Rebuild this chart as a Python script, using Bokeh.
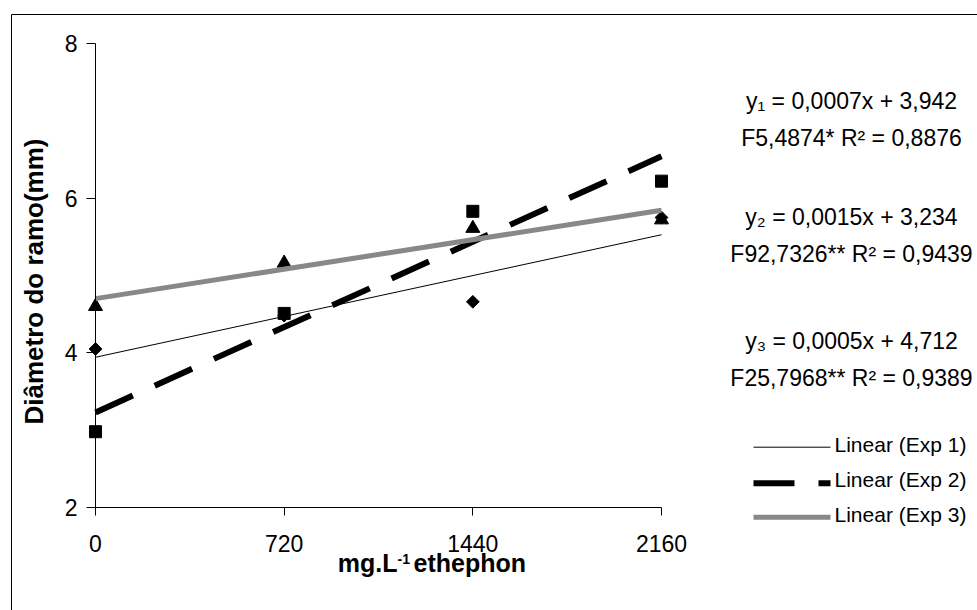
import numpy as np
from math import pi
from bokeh.plotting import figure
from bokeh.models import Range1d, FixedTicker, Label, Arrow, BoxAnnotation, LinearAxis
from bokeh.embed import file_html
from bokeh.resources import INLINE

# ---------------- data ----------------
doses = [0, 720, 1440, 2160]
exp1 = [4.05, 4.48, 4.66, 5.75]
exp2 = [2.98, 4.51, 5.83, 6.22]
exp3 = [4.60, 5.16, 5.61, 5.72]
x_ticks = [0, 720, 1440, 2160]
y_ticks = [2, 4, 6, 8]
legend_names = ["Linear (Exp 1)", "Linear (Exp 2)", "Linear (Exp 3)"]
eq_texts = ["y\u2081 = 0,0007x + 3,942", "y\u2082 = 0,0015x + 3,234", "y\u2083 = 0,0005x + 4,712"]
stat_texts = ["F5,4874* R\u00b2 = 0,8876", "F92,7326** R\u00b2 = 0,9439", "F25,7968** R\u00b2 = 0,9389"]
y_title = "Di\u00e2metro do ramo(mm)"
x_title_parts = ["mg.L", "-1", "ethephon"]

FONT = "Liberation Sans"
GRAY = "#888888"
W, H = 977, 610

# ---------------- layout helpers (canvas pixel -> data) ----------------
PX_X0, PX_X1 = 95.0, 661.0      # pixel of x = 0 and x = 2160
PX_Y8, PX_Y2 = 43.0, 507.0      # pixel of y = 8 and y = 2
X_PER_PX = 2160.0 / (PX_X1 - PX_X0)
Y_PER_PX = 6.0 / (PX_Y2 - PX_Y8)


def sx(px):
    return (px - PX_X0) * X_PER_PX


def sy(py):
    return 2.0 + (PX_Y2 - py) * Y_PER_PX


def text_label(px, py_base, text, size, align="left", bold=False):
    # py_base: wanted pixel row of the text's baseline
    return Label(x=sx(px), y=sy(py_base - 0.42 * size), text=text,
                 text_align=align, text_baseline="alphabetic",
                 text_font=FONT, text_font_style="bold" if bold else "normal",
                 text_font_size=f"{size}px", text_color="black")


p = figure(width=W, height=H,
           x_range=Range1d(sx(0), sx(W)), y_range=Range1d(sy(H), sy(0)),
           output_backend="svg", toolbar_location=None,
           x_axis_location=None, y_axis_location=None,
           min_border=0, min_border_left=0, min_border_right=0,
           min_border_top=0, min_border_bottom=0,
           background_fill_color="white", border_fill_color="white",
           outline_line_color=None)
p.grid.visible = False

xaxis = LinearAxis(fixed_location=2, bounds=(0, 2160), ticker=FixedTicker(ticks=x_ticks))
yaxis = LinearAxis(fixed_location=0, bounds=(2, 8), ticker=FixedTicker(ticks=y_ticks))
for ax in (xaxis, yaxis):
    ax.axis_line_color = "black"
    ax.axis_line_width = 1
    ax.major_tick_line_color = "black"
    ax.major_tick_in = 0
    ax.minor_tick_line_color = None
    ax.major_label_text_font = FONT
    ax.major_label_text_font_size = "23px"
    ax.major_label_text_color = "black"
xaxis.major_tick_out = 8
yaxis.major_tick_out = 9
xaxis.major_label_standoff = 19
yaxis.major_label_standoff = 9
p.add_layout(xaxis, "below")
p.add_layout(yaxis, "left")

# ---------------- markers ----------------
p.scatter(doses, exp1, marker="square", angle=pi / 4, size=9, color="black")
p.scatter(doses, exp2, marker="square", size=12, color="black")
p.scatter(doses, exp3, marker="triangle", size=14, color="black")

# ---------------- trend lines (least squares fits of the data) ----------------
xs_line = [doses[0], doses[-1]]
for ys, color, width, dash in ((exp1, "black", 1, "solid"),
                               (exp2, "black", 6, "41 24"),
                               (exp3, GRAY, 5, "solid")):
    b, a = np.polyfit(doses, ys, 1)
    p.line(xs_line, [a + b * x for x in xs_line], line_color=color,
           line_width=width, line_dash=dash)

# ---------------- outer frame ----------------
p.add_layout(BoxAnnotation(left=sx(11), right=sx(W + 30), top=sy(14), bottom=sy(H + 30),
                           fill_alpha=0, line_color="black", line_alpha=1, line_width=1))

# ---------------- axis titles ----------------
p.add_layout(Label(x=sx(33), y=sy(281), text=y_title, angle=pi / 2,
                   text_align="center", text_baseline="middle",
                   text_font=FONT, text_font_style="bold",
                   text_font_size="26px", text_color="black"))
p.add_layout(text_label(397, 573, x_title_parts[0], 25, align="right", bold=True))
p.add_layout(text_label(397, 564, x_title_parts[1], 14, align="left", bold=True))
p.add_layout(text_label(413, 573, x_title_parts[2], 25, align="left", bold=True))

# ---------------- equations ----------------
eq_base = [110, 226, 350]
for i in range(3):
    p.add_layout(text_label(851, eq_base[i], eq_texts[i], 23, align="center"))
    p.add_layout(text_label(851, eq_base[i] + 37, stat_texts[i], 23, align="center"))

# ---------------- legend ----------------
leg_line_y = [446.7, 482.7, 516.7]
leg_text_y = [452.7, 488.0, 522.7]
leg_styles = [("black", 1, "solid"), ("black", 6, "41 24"), (GRAY, 5, "solid")]
for i in range(3):
    c, w, d = leg_styles[i]
    p.add_layout(Arrow(end=None, x_start=sx(753), y_start=sy(leg_line_y[i]),
                       x_end=sx(830), y_end=sy(leg_line_y[i]),
                       line_color=c, line_width=w, line_dash=d))
    p.add_layout(text_label(834, leg_text_y[i], legend_names[i], 21, align="left"))

open("out.html", "w").write(file_html(p, INLINE))
